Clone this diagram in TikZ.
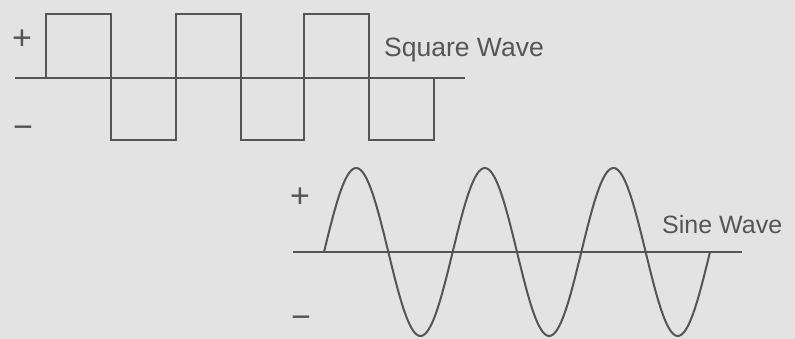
\documentclass[tikz,border=0pt]{standalone}
\usepackage{fontspec}
\setmainfont{Liberation Sans}
\definecolor{bgc}{HTML}{E3E3E3}
\definecolor{ink}{HTML}{555555}
\begin{document}
\begin{tikzpicture}[x=1pt,y=-1pt,
  wave/.style={draw=ink,line width=2pt,line join=miter},
  axisline/.style={draw=ink,line width=2.2pt},
  lbl/.style={text=ink,inner sep=0pt,anchor=west},
  sign/.style={text=ink,inner sep=0pt,font=\fontsize{34}{34}\selectfont}]
\fill[bgc] (0,0) rectangle (795,339);
\useasboundingbox (0,0) rectangle (795,339);
% square wave
\draw[axisline] (15,78) -- (465,78);
\draw[wave] (46,78) -- (46,14) -- (111,14) -- (111,140) -- (176,140) -- (176,14)
  -- (241,14) -- (241,140) -- (304,140) -- (304,14) -- (369,14) -- (369,140)
  -- (434,140) -- (434,78);
\node[sign] (sqplus) at (22,40) {+};
\node[sign] (sqminus) at (23,132) {−};
\node[lbl,font=\fontsize{26.5}{26.5}\selectfont] (sqlabel) at (384,50) {Square Wave};
% sine wave
\draw[axisline] (293,252) -- (742,252);
\draw[wave] plot[domain=324:710,samples=200,smooth] (\x,{252-84*sin((\x-324)/64.33*180)});
\node[sign] (snplus) at (300,198) {+};
\node[sign] (snminus) at (301,322) {−};
\node[lbl,font=\fontsize{25}{25}\selectfont] (snlabel) at (662,225) {Sine Wave};
\end{tikzpicture}
\end{document}
